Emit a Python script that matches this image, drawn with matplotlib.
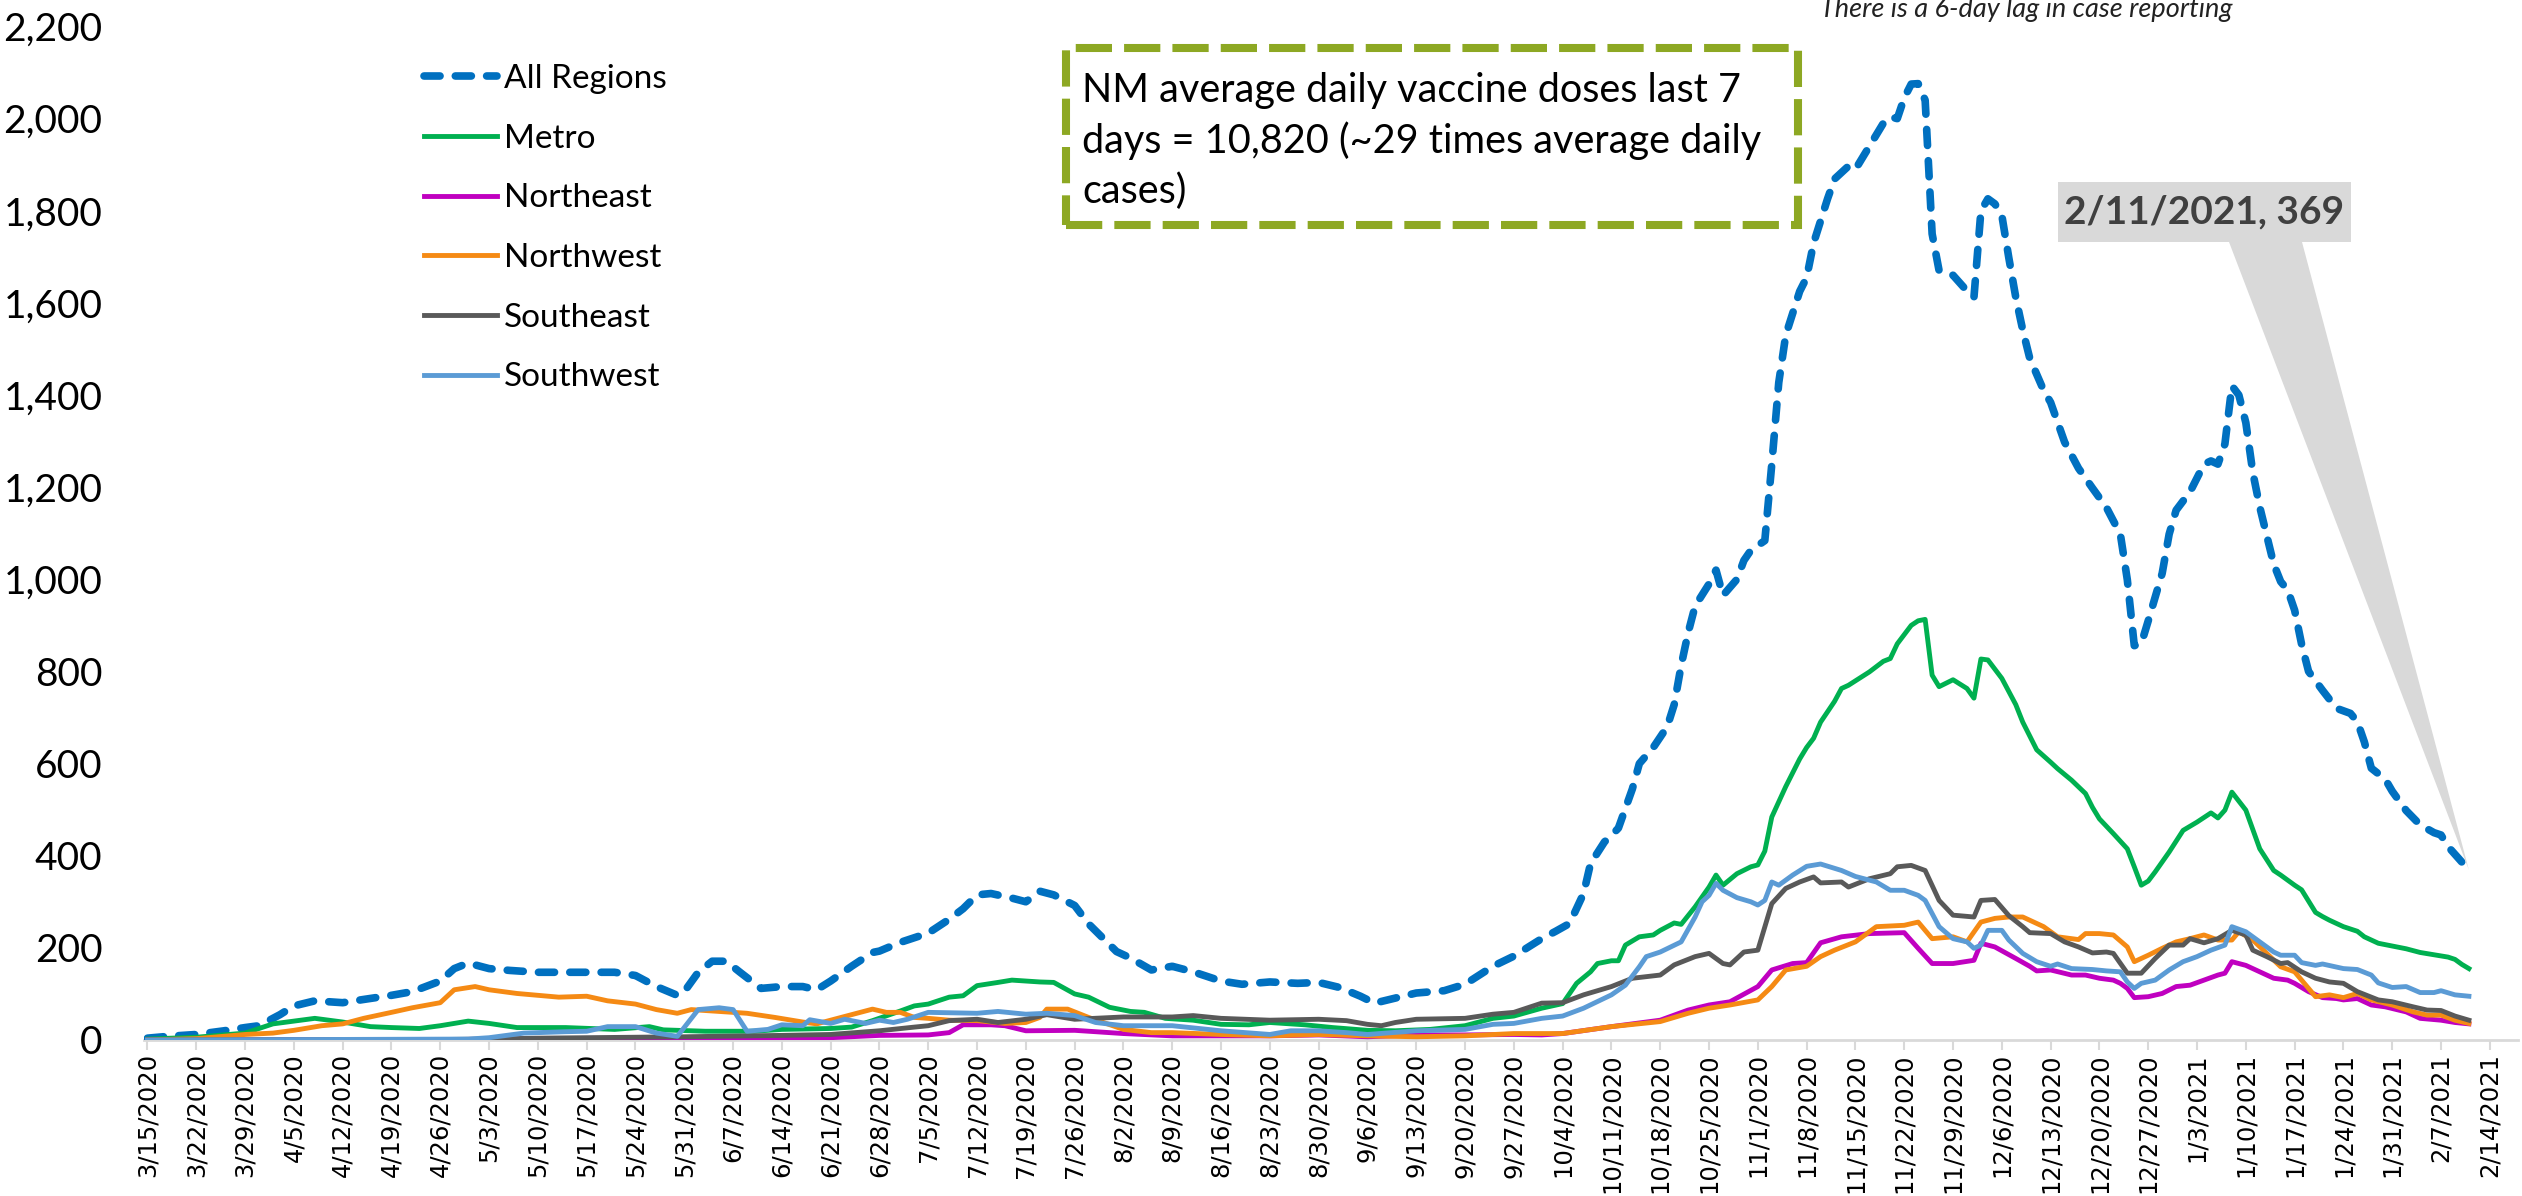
import matplotlib
matplotlib.use("Agg")
import matplotlib.pyplot as plt
import matplotlib.dates as mdates
from matplotlib.patches import Rectangle, Polygon
import pandas as pd

# ---------------- data ----------------
SERIES_NAMES = ["All Regions", "Metro", "Northeast", "Northwest", "Southeast", "Southwest"]
SERIES_COLORS = ["#0070C0", "#00B050", "#C000C0", "#F58A14", "#595959", "#5B9BD5"]

ALL_REGIONS = [
    ("3/15/20", 4), ("3/18/20", 8), ("3/22/20", 12), ("3/26/20", 20), ("3/29/20", 27), ("3/31/20", 31),
    ("4/3/20", 55), ("4/5/20", 74), ("4/8/20", 85), ("4/12/20", 81), ("4/15/20", 88), ("4/19/20", 97),
    ("4/22/20", 105), ("4/26/20", 128), ("4/28/20", 155), ("4/30/20", 167),
    ("5/3/20", 155), ("5/6/20", 151), ("5/10/20", 147), ("5/14/20", 147), ("5/17/20", 147), ("5/21/20", 147),
    ("5/24/20", 140), ("5/27/20", 116), ("5/30/20", 97), ("5/31/20", 105),
    ("6/2/20", 147), ("6/4/20", 171), ("6/6/20", 171), ("6/8/20", 147), ("6/11/20", 112), ("6/14/20", 116),
    ("6/17/20", 116), ("6/19/20", 109), ("6/21/20", 128), ("6/24/20", 160), ("6/27/20", 190), ("6/28/20", 193),
    ("7/1/20", 212), ("7/5/20", 232), ("7/8/20", 262), ("7/10/20", 285), ("7/12/20", 315), ("7/14/20", 318),
    ("7/17/20", 308), ("7/19/20", 300), ("7/21/20", 323), ("7/23/20", 315), ("7/26/20", 292), ("7/28/20", 252),
    ("8/1/20", 192), ("8/3/20", 178), ("8/6/20", 152), ("8/9/20", 160), ("8/12/20", 148), ("8/16/20", 128),
    ("8/19/20", 121), ("8/23/20", 126), ("8/27/20", 123), ("8/30/20", 125),
    ("9/2/20", 114), ("9/5/20", 95), ("9/7/20", 80), ("9/10/20", 91), ("9/13/20", 102), ("9/17/20", 107),
    ("9/20/20", 121), ("9/24/20", 160), ("9/27/20", 182),
    ("10/1/20", 220), ("10/3/20", 236), ("10/5/20", 253), ("10/7/20", 318), ("10/8/20", 383), ("10/10/20", 430),
    ("10/11/20", 444), ("10/12/20", 460), ("10/14/20", 545), ("10/15/20", 600), ("10/17/20", 635),
    ("10/19/20", 680), ("10/20/20", 728), ("10/21/20", 813), ("10/22/20", 884), ("10/23/20", 942),
    ("10/25/20", 990), ("10/26/20", 1020), ("10/27/20", 965), ("10/29/20", 1000), ("10/30/20", 1041),
    ("10/31/20", 1063),
    ("11/2/20", 1084), ("11/3/20", 1250), ("11/4/20", 1427), ("11/5/20", 1530), ("11/7/20", 1625),
    ("11/8/20", 1655), ("11/9/20", 1730), ("11/11/20", 1826), ("11/12/20", 1869), ("11/14/20", 1897),
    ("11/15/20", 1890), ("11/17/20", 1940), ("11/19/20", 1990), ("11/20/20", 2004), ("11/21/20", 2000),
    ("11/22/20", 2045), ("11/23/20", 2075), ("11/24/20", 2076), ("11/25/20", 2040), ("11/26/20", 1750),
    ("11/27/20", 1670), ("11/29/20", 1660),
    ("12/1/20", 1626), ("12/2/20", 1612), ("12/3/20", 1800), ("12/4/20", 1826), ("12/5/20", 1815),
    ("12/6/20", 1790), ("12/7/20", 1698), ("12/8/20", 1612), ("12/9/20", 1541), ("12/10/20", 1480),
    ("12/12/20", 1410), ("12/13/20", 1384), ("12/15/20", 1298), ("12/17/20", 1241), ("12/19/20", 1198),
    ("12/21/20", 1156), ("12/22/20", 1127), ("12/23/20", 1098), ("12/24/20", 999), ("12/25/20", 856),
    ("12/26/20", 860), ("12/27/20", 910), ("12/29/20", 1013), ("12/30/20", 1098), ("12/31/20", 1150),
    ("1/2/21", 1190), ("1/4/21", 1250), ("1/5/21", 1257), ("1/6/21", 1250), ("1/7/21", 1294), ("1/8/21", 1420),
    ("1/9/21", 1400), ("1/10/21", 1340), ("1/11/21", 1232), ("1/12/21", 1157), ("1/13/21", 1095),
    ("1/14/21", 1033), ("1/15/21", 995), ("1/16/21", 977), ("1/17/21", 933), ("1/18/21", 859), ("1/19/21", 800),
    ("1/21/21", 759), ("1/23/21", 720), ("1/25/21", 709), ("1/26/21", 691), ("1/27/21", 647), ("1/28/21", 590),
    ("1/30/21", 566), ("1/31/21", 540),
    ("2/2/21", 498), ("2/4/21", 467), ("2/6/21", 450), ("2/7/21", 445), ("2/8/21", 420), ("2/10/21", 386),
    ("2/11/21", 369),
]

METRO = [
    ("3/15/20", 2), ("3/22/20", 6), ("3/29/20", 15),
    ("4/2/20", 35), ("4/5/20", 41), ("4/8/20", 47), ("4/12/20", 39), ("4/16/20", 29), ("4/19/20", 27),
    ("4/23/20", 25), ("4/26/20", 31), ("4/30/20", 41),
    ("5/3/20", 36), ("5/7/20", 27), ("5/14/20", 27), ("5/21/20", 23), ("5/26/20", 29), ("5/28/20", 22),
    ("6/3/20", 19), ("6/10/20", 19), ("6/14/20", 23), ("6/21/20", 25), ("6/24/20", 28), ("6/27/20", 42),
    ("7/1/20", 63), ("7/3/20", 74), ("7/5/20", 78), ("7/8/20", 93), ("7/10/20", 96), ("7/12/20", 118),
    ("7/15/20", 125), ("7/17/20", 130), ("7/21/20", 126), ("7/23/20", 125), ("7/26/20", 100), ("7/28/20", 93),
    ("7/31/20", 71),
    ("8/3/20", 62), ("8/5/20", 60), ("8/8/20", 47), ("8/12/20", 43), ("8/16/20", 34), ("8/20/20", 33),
    ("8/23/20", 38), ("8/28/20", 33),
    ("9/1/20", 27), ("9/6/20", 21), ("9/10/20", 20), ("9/15/20", 23), ("9/20/20", 31), ("9/24/20", 47),
    ("9/27/20", 52),
    ("10/1/20", 69), ("10/4/20", 79), ("10/6/20", 123), ("10/8/20", 148), ("10/9/20", 166), ("10/11/20", 172),
    ("10/12/20", 172), ("10/13/20", 206), ("10/15/20", 224), ("10/17/20", 228), ("10/18/20", 238),
    ("10/20/20", 254), ("10/21/20", 251), ("10/23/20", 289), ("10/25/20", 332), ("10/26/20", 358),
    ("10/27/20", 336), ("10/29/20", 361), ("10/31/20", 376),
    ("11/1/20", 380), ("11/2/20", 410), ("11/3/20", 484), ("11/5/20", 550), ("11/7/20", 610), ("11/8/20", 635),
    ("11/9/20", 655), ("11/10/20", 690), ("11/12/20", 735), ("11/13/20", 763), ("11/14/20", 770),
    ("11/17/20", 799), ("11/19/20", 822), ("11/20/20", 828), ("11/21/20", 860), ("11/22/20", 880),
    ("11/23/20", 900), ("11/24/20", 910), ("11/25/20", 913), ("11/26/20", 792), ("11/27/20", 767),
    ("11/29/20", 782),
    ("12/1/20", 763), ("12/2/20", 742), ("12/3/20", 827), ("12/4/20", 825), ("12/6/20", 785), ("12/8/20", 728),
    ("12/9/20", 690), ("12/11/20", 630), ("12/13/20", 603), ("12/14/20", 589), ("12/16/20", 564),
    ("12/18/20", 535), ("12/19/20", 505), ("12/20/20", 480), ("12/22/20", 448), ("12/24/20", 415),
    ("12/25/20", 376), ("12/26/20", 336), ("12/27/20", 345), ("12/28/20", 365), ("12/30/20", 408),
    ("1/1/21", 455), ("1/3/21", 473), ("1/5/21", 493), ("1/6/21", 482), ("1/7/21", 499), ("1/8/21", 538),
    ("1/10/21", 499), ("1/12/21", 415), ("1/14/21", 368), ("1/15/21", 358), ("1/17/21", 336), ("1/18/21", 326),
    ("1/20/21", 277), ("1/21/21", 268), ("1/22/21", 260), ("1/24/21", 246), ("1/26/21", 236), ("1/27/21", 224),
    ("1/29/21", 210), ("1/31/21", 204),
    ("2/2/21", 198), ("2/4/21", 190), ("2/6/21", 185), ("2/8/21", 180), ("2/9/21", 175), ("2/10/21", 164),
    ("2/11/21", 155),
]

NORTHEAST = [
    ("3/15/20", 0), ("4/26/20", 1), ("5/10/20", 2), ("5/31/20", 3), ("6/21/20", 5), ("6/28/20", 10),
    ("7/5/20", 11), ("7/8/20", 16), ("7/10/20", 33), ("7/14/20", 33), ("7/16/20", 31), ("7/19/20", 20),
    ("7/26/20", 21), ("8/2/20", 14), ("8/9/20", 9), ("8/16/20", 9), ("8/23/20", 9), ("8/30/20", 11),
    ("9/6/20", 7), ("9/13/20", 11), ("9/20/20", 11), ("9/27/20", 12), ("10/1/20", 11), ("10/4/20", 14),
    ("10/11/20", 29), ("10/18/20", 43), ("10/22/20", 65), ("10/25/20", 76), ("10/28/20", 83),
    ("11/1/20", 116), ("11/3/20", 152), ("11/6/20", 166), ("11/8/20", 168), ("11/10/20", 211),
    ("11/13/20", 224), ("11/17/20", 231), ("11/22/20", 233), ("11/24/20", 199), ("11/26/20", 166),
    ("11/29/20", 166), ("12/2/20", 173), ("12/3/20", 210), ("12/5/20", 202), ("12/8/20", 177),
    ("12/10/20", 160), ("12/11/20", 150), ("12/13/20", 152), ("12/16/20", 141), ("12/18/20", 141),
    ("12/20/20", 134), ("12/22/20", 130), ("12/23/20", 123), ("12/24/20", 112), ("12/25/20", 92),
    ("12/27/20", 94), ("12/29/20", 101), ("12/31/20", 116), ("1/2/21", 119), ("1/4/21", 130), ("1/6/21", 141),
    ("1/7/21", 145), ("1/8/21", 170), ("1/10/21", 162), ("1/12/21", 148), ("1/14/21", 134), ("1/16/21", 130),
    ("1/17/21", 123), ("1/19/21", 105), ("1/21/21", 92), ("1/23/21", 90), ("1/24/21", 87), ("1/26/21", 90),
    ("1/28/21", 76), ("1/30/21", 72), ("2/2/21", 61), ("2/4/21", 47), ("2/7/21", 43), ("2/9/21", 38),
    ("2/11/21", 35),
]

NORTHWEST = [
    ("3/15/20", 0), ("3/22/20", 3), ("3/29/20", 12), ("4/2/20", 15), ("4/5/20", 21), ("4/9/20", 31),
    ("4/12/20", 35), ("4/15/20", 47), ("4/19/20", 60), ("4/22/20", 70), ("4/26/20", 81), ("4/28/20", 109),
    ("5/1/20", 116), ("5/3/20", 109), ("5/7/20", 101), ("5/10/20", 97), ("5/13/20", 93), ("5/17/20", 95),
    ("5/20/20", 85), ("5/24/20", 78), ("5/27/20", 66), ("5/30/20", 58), ("6/1/20", 66), ("6/5/20", 62),
    ("6/9/20", 58), ("6/13/20", 49), ("6/17/20", 39), ("6/19/20", 35), ("6/21/20", 43), ("6/24/20", 55),
    ("6/27/20", 67), ("6/29/20", 60), ("7/1/20", 60), ("7/3/20", 49), ("7/5/20", 47), ("7/8/20", 43),
    ("7/12/20", 42), ("7/16/20", 36), ("7/19/20", 38), ("7/21/20", 49), ("7/22/20", 67), ("7/25/20", 67),
    ("7/28/20", 49), ("8/2/20", 23), ("8/6/20", 16), ("8/9/20", 16), ("8/16/20", 12), ("8/23/20", 9),
    ("8/30/20", 12), ("9/6/20", 9), ("9/13/20", 7), ("9/20/20", 9), ("9/27/20", 14), ("10/4/20", 14),
    ("10/11/20", 29), ("10/18/20", 40), ("10/22/20", 58), ("10/25/20", 69), ("10/28/20", 76), ("11/1/20", 87),
    ("11/3/20", 116), ("11/5/20", 152), ("11/8/20", 160), ("11/10/20", 181), ("11/12/20", 195),
    ("11/15/20", 213), ("11/17/20", 235), ("11/18/20", 246), ("11/22/20", 249), ("11/24/20", 256),
    ("11/26/20", 220), ("11/29/20", 224), ("12/1/20", 213), ("12/3/20", 256), ("12/5/20", 264),
    ("12/7/20", 267), ("12/9/20", 267), ("12/11/20", 253), ("12/12/20", 246), ("12/14/20", 224),
    ("12/17/20", 218), ("12/18/20", 231), ("12/20/20", 231), ("12/22/20", 228), ("12/24/20", 202),
    ("12/25/20", 170), ("12/27/20", 184), ("12/29/20", 199), ("12/31/20", 213), ("1/2/21", 220),
    ("1/4/21", 228), ("1/6/21", 217), ("1/8/21", 217), ("1/9/21", 235), ("1/11/21", 217), ("1/13/21", 188),
    ("1/15/21", 159), ("1/17/21", 148), ("1/18/21", 130), ("1/20/21", 94), ("1/22/21", 98), ("1/24/21", 92),
    ("1/26/21", 101), ("1/28/21", 87), ("1/31/21", 76), ("2/3/21", 61), ("2/5/21", 54), ("2/7/21", 54),
    ("2/9/21", 43), ("2/11/21", 36),
]

SOUTHEAST = [
    ("3/15/20", 0), ("4/26/20", 1), ("5/3/20", 2), ("5/10/20", 4), ("5/31/20", 7), ("6/14/20", 10),
    ("6/21/20", 12), ("6/28/20", 20), ("7/3/20", 28), ("7/5/20", 31), ("7/8/20", 42), ("7/12/20", 45),
    ("7/15/20", 38), ("7/19/20", 45), ("7/22/20", 55), ("7/26/20", 45), ("8/2/20", 50), ("8/9/20", 50),
    ("8/12/20", 53), ("8/16/20", 47), ("8/23/20", 43), ("8/30/20", 45), ("9/3/20", 42), ("9/6/20", 34),
    ("9/8/20", 31), ("9/10/20", 38), ("9/13/20", 45), ("9/20/20", 47), ("9/24/20", 56), ("9/27/20", 60),
    ("10/1/20", 80), ("10/4/20", 81), ("10/7/20", 98), ("10/11/20", 116), ("10/14/20", 134), ("10/18/20", 141),
    ("10/20/20", 163), ("10/23/20", 181), ("10/25/20", 188), ("10/27/20", 166), ("10/28/20", 163),
    ("10/30/20", 191), ("11/1/20", 195), ("11/3/20", 296), ("11/5/20", 329), ("11/7/20", 343),
    ("11/9/20", 354), ("11/10/20", 341), ("11/13/20", 343), ("11/14/20", 332), ("11/17/20", 350),
    ("11/20/20", 361), ("11/21/20", 376), ("11/23/20", 379), ("11/25/20", 368), ("11/27/20", 303),
    ("11/29/20", 271), ("12/2/20", 267), ("12/3/20", 303), ("12/5/20", 305), ("12/7/20", 270),
    ("12/9/20", 246), ("12/10/20", 233), ("12/13/20", 231), ("12/15/20", 213), ("12/17/20", 202),
    ("12/19/20", 189), ("12/21/20", 191), ("12/22/20", 188), ("12/24/20", 145), ("12/26/20", 145),
    ("12/28/20", 177), ("12/30/20", 206), ("1/1/21", 206), ("1/2/21", 220), ("1/4/21", 211), ("1/6/21", 220),
    ("1/8/21", 238), ("1/10/21", 228), ("1/11/21", 195), ("1/13/21", 181), ("1/15/21", 166), ("1/16/21", 168),
    ("1/18/21", 148), ("1/20/21", 134), ("1/22/21", 126), ("1/24/21", 123), ("1/26/21", 105), ("1/29/21", 87),
    ("1/31/21", 83), ("2/3/21", 72), ("2/5/21", 65), ("2/7/21", 64), ("2/9/21", 52), ("2/11/21", 43),
]

SOUTHWEST = [
    ("3/15/20", 0), ("4/30/20", 2), ("5/3/20", 5), ("5/8/20", 15), ("5/14/20", 18), ("5/17/20", 19),
    ("5/20/20", 29), ("5/24/20", 29), ("5/27/20", 15), ("5/30/20", 8), ("6/2/20", 66), ("6/5/20", 70),
    ("6/7/20", 66), ("6/9/20", 19), ("6/12/20", 23), ("6/14/20", 33), ("6/17/20", 31), ("6/18/20", 44),
    ("6/21/20", 36), ("6/23/20", 45), ("6/26/20", 36), ("6/28/20", 43), ("6/30/20", 38), ("7/2/20", 45),
    ("7/5/20", 60), ("7/12/20", 58), ("7/15/20", 62), ("7/19/20", 56), ("7/22/20", 58), ("7/26/20", 53),
    ("7/29/20", 38), ("8/2/20", 31), ("8/9/20", 31), ("8/16/20", 20), ("8/23/20", 12), ("8/26/20", 20),
    ("8/30/20", 20), ("9/3/20", 16), ("9/6/20", 12), ("9/13/20", 20), ("9/20/20", 23), ("9/24/20", 34),
    ("9/27/20", 36), ("10/1/20", 47), ("10/4/20", 52), ("10/7/20", 69), ("10/11/20", 98), ("10/13/20", 119),
    ("10/15/20", 159), ("10/16/20", 181), ("10/18/20", 191), ("10/21/20", 213), ("10/23/20", 267),
    ("10/24/20", 300), ("10/25/20", 314), ("10/26/20", 340), ("10/27/20", 325), ("10/29/20", 309),
    ("10/31/20", 300), ("11/1/20", 293), ("11/2/20", 303), ("11/3/20", 343), ("11/4/20", 336),
    ("11/6/20", 358), ("11/8/20", 377), ("11/10/20", 382), ("11/13/20", 368), ("11/15/20", 355),
    ("11/18/20", 343), ("11/20/20", 325), ("11/22/20", 325), ("11/24/20", 314), ("11/25/20", 303),
    ("11/27/20", 246), ("11/29/20", 220), ("12/1/20", 213), ("12/2/20", 199), ("12/3/20", 206),
    ("12/4/20", 238), ("12/6/20", 238), ("12/7/20", 217), ("12/9/20", 188), ("12/11/20", 170),
    ("12/13/20", 160), ("12/14/20", 165), ("12/16/20", 155), ("12/19/20", 153), ("12/21/20", 150),
    ("12/23/20", 148), ("12/24/20", 126), ("12/25/20", 112), ("12/26/20", 123), ("12/28/20", 130),
    ("12/30/20", 152), ("1/1/21", 170), ("1/3/21", 181), ("1/5/21", 195), ("1/7/21", 206), ("1/8/21", 246),
    ("1/10/21", 235), ("1/12/21", 213), ("1/14/21", 191), ("1/15/21", 184), ("1/17/21", 184), ("1/18/21", 168),
    ("1/20/21", 162), ("1/21/21", 165), ("1/24/21", 155), ("1/26/21", 153), ("1/28/21", 141), ("1/29/21", 124),
    ("1/31/21", 114), ("2/2/21", 116), ("2/4/21", 103), ("2/6/21", 103), ("2/7/21", 107), ("2/9/21", 98),
    ("2/11/21", 95),
]

SERIES_DATA = [ALL_REGIONS, METRO, NORTHEAST, NORTHWEST, SOUTHEAST, SOUTHWEST]

Y_TICKS = list(range(0, 2201, 200))
X_TICK_START, X_TICK_END = "2020-03-15", "2021-02-14"
NOTE_TEXT = "NM average daily vaccine doses last 7\ndays = 10,820 (~29 times average daily\ncases)"
LAG_TEXT = "There is a 6-day lag in case reporting"

# ---------------- figure ----------------
W, H = 2522, 1196
fig = plt.figure(figsize=(W / 100, H / 100), dpi=100)
fig.patch.set_facecolor("white")


def fx(x):
    return x / W


def fy(y):
    return 1 - y / H


ax = fig.add_axes([fx(144), fy(1040), fx(2518) - fx(144), fy(26.5) - fy(1040)])

handles = []
for name, color, data in zip(SERIES_NAMES, SERIES_COLORS, SERIES_DATA):
    dates = pd.to_datetime([d for d, _ in data], format="%m/%d/%y")
    vals = [v for _, v in data]
    if name == "All Regions":
        (ln,) = ax.plot(dates, vals, color=color, lw=5.5, dashes=(2.1, 2.0),
                        dash_capstyle="round", solid_capstyle="round", zorder=3, label=name)
    else:
        (ln,) = ax.plot(dates, vals, color=color, lw=3.5, solid_joinstyle="round", zorder=3, label=name)
    handles.append(ln)

ax.set_xlim(pd.Timestamp("2020-03-14 12:00"), pd.Timestamp("2021-02-18 01:00"))
ax.set_ylim(0, 2200)

ticks = pd.date_range(X_TICK_START, X_TICK_END, freq="7D")
ax.set_xticks(ticks)
ax.set_xticklabels([f"{d.month}/{d.day}/{d.year}" for d in ticks], rotation=90,
                   fontsize=17.5, family="DejaVu Sans", color="black")
ax.set_yticks(Y_TICKS)
ax.set_yticklabels([f"{v:,}" for v in Y_TICKS], fontsize=28, family="Lato", color="black")

for s in ["left", "top", "right"]:
    ax.spines[s].set_visible(False)
ax.spines["bottom"].set_color("#D9D9D9")
ax.spines["bottom"].set_linewidth(2)
ax.tick_params(axis="x", length=7.5, width=1.5, color="#D9D9D9", pad=2)
ax.tick_params(axis="y", length=0, pad=30)

# legend
leg = ax.legend(handles=handles, loc="upper left", bbox_to_anchor=(fx(424), fy(64)),
                bbox_transform=fig.transFigure, frameon=False, prop={"family": "Lato", "size": 24},
                handlelength=2.2, handletextpad=0.2, labelspacing=0.89, borderpad=0, borderaxespad=0)

# vaccine note box
fig.add_artist(Rectangle((fx(1066), fy(225)), fx(1798) - fx(1066), fy(48) - fy(225),
                         transform=fig.transFigure, fill=False, edgecolor="#8DA823",
                         lw=5.8, linestyle=(0, (4.5, 1.5)), zorder=5))
fig.text(fx(1082), fy(72), NOTE_TEXT, ha="left", va="top", fontsize=28.5, family="Lato",
         color="black", linespacing=1.4)

# lag text
fig.text(fx(2026), fy(9), LAG_TEXT, ha="center", va="center", fontsize=19.5, style="italic",
         family="Lato", color="#222222")

# callout for last point
last_date_str, last_val = ALL_REGIONS[-1]
last_date = pd.to_datetime(last_date_str, format="%m/%d/%y")
fig.canvas.draw()
tip_disp = ax.transData.transform((mdates.date2num(last_date), last_val))
tip_fig = fig.transFigure.inverted().transform(tip_disp)
wedge = Polygon([(fx(2229), fy(242)), (fx(2302), fy(242)), tuple(tip_fig)], closed=True,
                transform=fig.transFigure, facecolor="#D9D9D9", edgecolor="none", zorder=1)
fig.add_artist(wedge)
fig.add_artist(Rectangle((fx(2058), fy(242)), fx(2351) - fx(2058), fy(182) - fy(242),
                         transform=fig.transFigure, facecolor="#D9D9D9", edgecolor="none", zorder=1))
fig.text(fx(2204), fy(212), f"{last_date.month}/{last_date.day}/{last_date.year}, {last_val}",
         ha="center", va="center", fontsize=28, fontweight="bold", family="Lato",
         color="#404040", zorder=2)

fig.savefig("out.png", dpi=100, facecolor="white")
